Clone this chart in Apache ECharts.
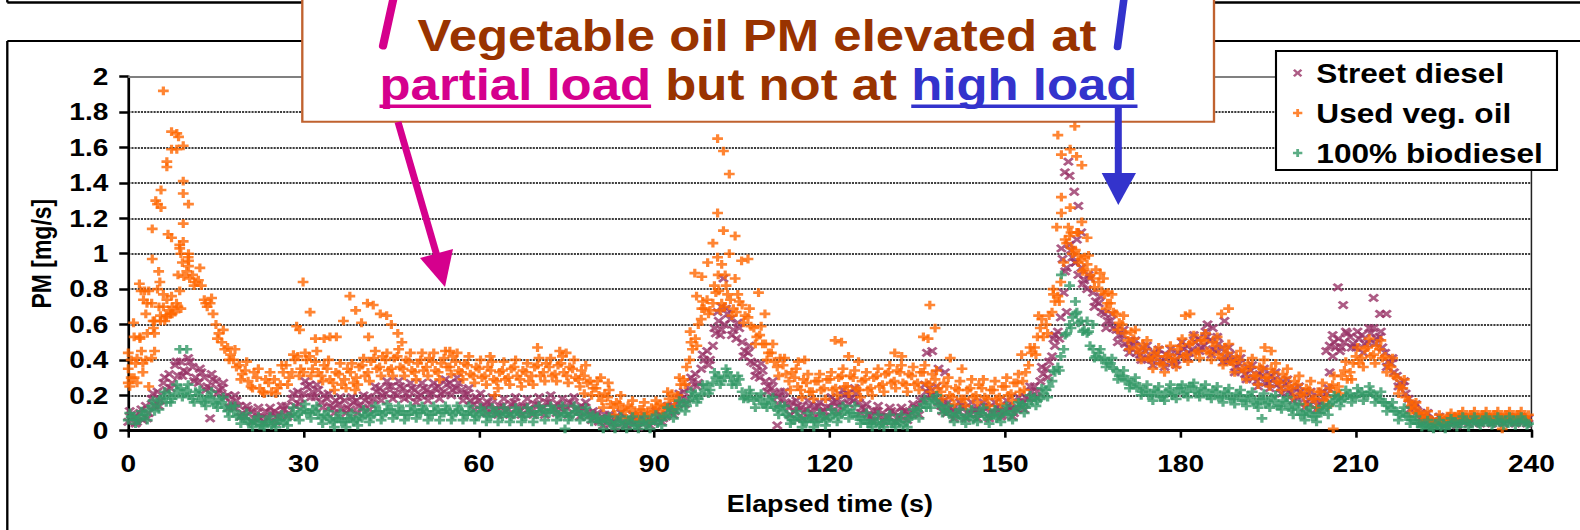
<!DOCTYPE html>
<html><head><meta charset="utf-8">
<script src="https://cdn.jsdelivr.net/npm/echarts@6/dist/echarts.min.js"></script>
<style>
html,body{margin:0;padding:0;background:#fff;overflow:hidden;}
#chart{width:1350px;height:530px;transform:scaleX(1.17037);transform-origin:0 0;}
</style></head><body><div id="chart"></div>
<script>
// ---- data ----
// main samples every 0.5 s (t = i*0.5); edge samples every 1 s (t = i + 0.25)
const STEP = 0.5;
const EDGE_STEP = 1, EDGE_OFFSET = 0.25;
const xTickInterval = 30;
const seriesNames = ['Street diesel', 'Used veg. oil', '100% biodiesel'];

const dieselVals = [
0.05,0.09,0.08,0.05,0.10,0.06,0.14,0.10,0.18,0.14,0.22,0.17,0.27,0.23,0.32,0.27,0.37,0.31,0.39,0.34,
0.33,0.39,0.36,0.30,0.27,0.33,0.30,0.25,0.24,0.29,0.28,0.23,0.24,0.19,0.20,0.16,0.13,0.17,0.14,0.10,
0.08,0.12,0.11,0.07,0.10,0.07,0.08,0.11,0.07,0.10,0.11,0.08,0.09,0.12,0.14,0.10,0.18,0.14,0.22,0.18,
0.21,0.25,0.26,0.22,0.19,0.23,0.16,0.20,0.18,0.14,0.13,0.17,0.15,0.12,0.17,0.13,0.12,0.16,0.17,0.14,
0.13,0.17,0.19,0.15,0.18,0.22,0.24,0.20,0.21,0.25,0.25,0.21,0.20,0.25,0.24,0.21,0.19,0.24,0.23,0.19,
0.20,0.24,0.23,0.20,0.21,0.24,0.25,0.21,0.22,0.26,0.27,0.23,0.24,0.27,0.23,0.20,0.21,0.17,0.15,0.19,
0.17,0.14,0.13,0.16,0.15,0.12,0.11,0.14,0.14,0.11,0.12,0.15,0.16,0.13,0.11,0.14,0.14,0.12,0.11,0.15,
0.15,0.12,0.13,0.16,0.16,0.13,0.12,0.15,0.14,0.11,0.13,0.16,0.15,0.12,0.11,0.14,0.13,0.10,0.09,0.11,
0.08,0.05,0.06,0.09,0.07,0.04,0.05,0.08,0.07,0.04,0.03,0.06,0.06,0.04,0.05,0.08,0.04,0.06,0.07,0.05,
0.05,0.08,0.09,0.07,0.08,0.12,0.14,0.11,0.15,0.18,0.22,0.18,0.24,0.28,0.32,0.27,0.35,0.40,0.45,0.40,
0.48,0.55,0.62,0.57,0.60,0.66,0.63,0.57,0.52,0.58,0.50,0.45,0.44,0.39,0.38,0.34,0.30,0.34,0.28,0.25,
0.24,0.21,0.19,0.22,0.18,0.15,0.13,0.16,0.11,0.14,0.13,0.10,0.12,0.14,0.10,0.13,0.14,0.11,0.11,0.13,
0.13,0.16,0.17,0.14,0.16,0.20,0.21,0.18,0.17,0.21,0.16,0.13,0.12,0.09,0.08,0.11,0.11,0.08,0.10,0.07,
0.08,0.11,0.10,0.07,0.08,0.11,0.11,0.09,0.10,0.13,0.13,0.17,0.18,0.22,0.24,0.20,0.19,0.16,0.14,0.17,
0.10,0.13,0.12,0.09,0.11,0.14,0.13,0.10,0.09,0.12,0.12,0.10,0.11,0.14,0.13,0.10,0.10,0.13,0.12,0.09,
0.11,0.14,0.13,0.10,0.12,0.15,0.16,0.19,0.18,0.22,0.25,0.22,0.28,0.32,0.35,0.39,0.42,0.48,0.56,0.64,
0.78,0.92,1.05,0.98,0.95,0.88,0.92,0.85,0.80,0.86,0.78,0.73,0.72,0.67,0.66,0.62,0.62,0.58,0.57,0.54,
0.54,0.49,0.47,0.51,0.48,0.44,0.43,0.47,0.45,0.41,0.40,0.44,0.43,0.39,0.39,0.43,0.42,0.38,0.40,0.44,
0.42,0.46,0.48,0.44,0.46,0.50,0.52,0.47,0.48,0.53,0.51,0.46,0.45,0.49,0.46,0.42,0.39,0.43,0.40,0.36,
0.38,0.34,0.32,0.36,0.34,0.30,0.28,0.32,0.31,0.27,0.27,0.31,0.29,0.26,0.24,0.28,0.26,0.22,0.21,0.24,
0.18,0.22,0.20,0.16,0.15,0.19,0.17,0.14,0.16,0.19,0.21,0.33,0.42,0.47,0.52,0.47,0.50,0.55,0.53,0.49,
0.47,0.52,0.54,0.49,0.50,0.55,0.58,0.52,0.53,0.47,0.44,0.39,0.38,0.33,0.31,0.27,0.25,0.21,0.18,0.15,
0.13,0.11,0.10,0.08,0.07,0.06,0.05,0.06,0.04,0.06,0.05,0.04,0.06,0.05,0.05,0.07,0.06,0.05,0.07,0.06,
0.06,0.07,0.05,0.06,0.07,0.06,0.06,0.07,0.05,0.06,0.07,0.06,0.06,0.07,0.06,0.05,0.07,0.06,0.06,0.07
];
const dieselEdge = [
0.11,0.04,0.12,0.07,0.21,0.14,0.30,0.24,0.39,0.31, 0.41,0.28,0.35,0.23,0.32,0.21,0.27,0.13,0.20,0.08,
0.14,0.05,0.13,0.05,0.13,0.05,0.14,0.08,0.21,0.15, 0.28,0.19,0.26,0.13,0.21,0.10,0.19,0.10,0.19,0.10,
0.20,0.12,0.25,0.17,0.28,0.18,0.28,0.18,0.27,0.16, 0.27,0.17,0.27,0.18,0.29,0.20,0.30,0.17,0.24,0.12,
0.21,0.10,0.19,0.09,0.18,0.09,0.19,0.09,0.18,0.09, 0.19,0.09,0.20,0.10,0.18,0.09,0.19,0.08,0.16,0.06,
0.10,0.03,0.09,0.02,0.10,0.03,0.09,0.02,0.09,0.03, 0.11,0.05,0.14,0.09,0.21,0.15,0.30,0.25,0.43,0.37,
0.58,0.54,0.69,0.54,0.61,0.42,0.48,0.31,0.38,0.22, 0.28,0.15,0.22,0.09,0.17,0.07,0.17,0.07,0.16,0.08,
0.19,0.11,0.23,0.15,0.24,0.10,0.15,0.06,0.14,0.05, 0.13,0.05,0.13,0.06,0.15,0.09,0.26,0.20,0.25,0.11,
0.16,0.07,0.16,0.07,0.16,0.07,0.16,0.07,0.16,0.08, 0.17,0.08,0.19,0.12,0.25,0.19,0.36,0.30,0.52,0.52,
0.90,1.02,1.08,0.83,0.88,0.70,0.76,0.58,0.66,0.50, 0.57,0.44,0.51,0.40,0.48,0.37,0.46,0.36,0.46,0.37,
0.50,0.41,0.54,0.45,0.56,0.43,0.53,0.39,0.47,0.33, 0.41,0.29,0.37,0.25,0.35,0.24,0.33,0.21,0.29,0.17,
0.25,0.13,0.22,0.12,0.22,0.24,0.50,0.45,0.56,0.47, 0.56,0.44,0.58,0.49,0.56,0.36,0.41,0.25,0.28,0.12,
0.15,0.06,0.10,0.03,0.08,0.03,0.08,0.03,0.08,0.04, 0.08,0.04,0.08,0.04,0.08,0.04,0.08,0.04,0.08,0.04
];
const dieselExtra = [[14.0,0.07],[100.8,0.67],[101.5,0.70],[101.8,0.86],[111.0,0.03],[136.6,0.44],[137.5,0.45],
[138.6,0.35],[139.7,0.33],[158.5,0.54],[159.6,1.03],[159.8,0.97],[160.2,1.46],[160.5,0.67],[160.8,1.52],[161.0,1.44],
[161.8,1.35],[162.5,1.27],[163.0,1.12],[162.0,0.95],[184.6,0.60],[185.5,0.58],[187.5,0.62],[204.9,0.45],[205.5,0.48],
[206.0,0.54],[206.9,0.81],[207.8,0.71],[213.0,0.75],[214.1,0.66],[215.2,0.66]];

const vegOilVals = [
0.27,0.40,0.30,0.41,0.52,0.38,0.66,0.79,0.72,0.62,0.80,0.65,0.70,0.64,0.68,0.70,0.67,0.88,1.00,0.87,
0.90,0.86,0.88,0.84,0.85,0.82,0.74,0.70,0.72,0.66,0.60,0.55,0.50,0.46,0.47,0.43,0.40,0.36,0.37,0.32,
0.34,0.28,0.25,0.33,0.30,0.24,0.22,0.29,0.27,0.22,0.29,0.24,0.26,0.33,0.37,0.30,0.33,0.40,0.42,0.35,
0.33,0.40,0.42,0.35,0.39,0.33,0.31,0.37,0.35,0.29,0.27,0.33,0.32,0.26,0.29,0.35,0.33,0.27,0.30,0.36,
0.37,0.31,0.33,0.39,0.41,0.35,0.36,0.42,0.40,0.34,0.35,0.41,0.42,0.36,0.35,0.40,0.39,0.34,0.33,0.38,
0.40,0.34,0.36,0.41,0.39,0.34,0.33,0.38,0.41,0.36,0.36,0.42,0.39,0.34,0.33,0.38,0.37,0.32,0.31,0.36,
0.35,0.30,0.31,0.36,0.34,0.29,0.28,0.33,0.34,0.29,0.30,0.35,0.36,0.31,0.29,0.34,0.33,0.28,0.31,0.36,
0.37,0.31,0.33,0.38,0.36,0.31,0.32,0.37,0.38,0.33,0.31,0.36,0.35,0.30,0.29,0.34,0.31,0.27,0.28,0.24,
0.24,0.20,0.17,0.21,0.19,0.15,0.13,0.16,0.15,0.12,0.11,0.14,0.13,0.10,0.09,0.12,0.12,0.09,0.10,0.13,
0.11,0.14,0.15,0.12,0.14,0.18,0.21,0.17,0.20,0.26,0.29,0.36,0.40,0.46,0.52,0.60,0.63,0.69,0.74,0.68,
0.72,0.78,0.79,0.72,0.70,0.77,0.74,0.69,0.67,0.73,0.71,0.65,0.64,0.59,0.58,0.53,0.54,0.49,0.49,0.44,
0.44,0.39,0.36,0.41,0.37,0.32,0.28,0.33,0.30,0.25,0.23,0.29,0.27,0.22,0.22,0.28,0.28,0.23,0.24,0.29,
0.29,0.23,0.24,0.30,0.31,0.25,0.25,0.31,0.30,0.24,0.23,0.28,0.29,0.23,0.24,0.30,0.31,0.25,0.26,0.32,
0.33,0.27,0.28,0.34,0.33,0.27,0.26,0.32,0.31,0.26,0.27,0.33,0.33,0.27,0.26,0.32,0.29,0.24,0.22,0.27,
0.25,0.20,0.19,0.24,0.23,0.18,0.18,0.23,0.24,0.19,0.20,0.26,0.24,0.19,0.18,0.23,0.23,0.18,0.19,0.25,
0.25,0.20,0.21,0.27,0.27,0.22,0.28,0.33,0.37,0.44,0.47,0.53,0.58,0.53,0.60,0.65,0.67,0.73,0.76,0.84,
0.95,1.06,1.10,1.00,1.02,0.95,0.97,0.91,0.94,0.88,0.86,0.91,0.84,0.79,0.77,0.72,0.72,0.67,0.66,0.61,
0.60,0.55,0.51,0.56,0.52,0.47,0.44,0.49,0.46,0.41,0.40,0.44,0.42,0.38,0.37,0.42,0.43,0.39,0.41,0.46,
0.48,0.42,0.43,0.49,0.50,0.44,0.45,0.51,0.51,0.45,0.44,0.50,0.48,0.43,0.41,0.47,0.44,0.39,0.38,0.42,
0.40,0.35,0.34,0.38,0.36,0.31,0.31,0.36,0.35,0.30,0.30,0.35,0.33,0.28,0.27,0.32,0.30,0.25,0.24,0.28,
0.26,0.21,0.20,0.24,0.23,0.18,0.18,0.22,0.22,0.17,0.19,0.24,0.26,0.22,0.25,0.31,0.34,0.29,0.33,0.38,
0.42,0.38,0.41,0.46,0.47,0.42,0.43,0.48,0.46,0.41,0.42,0.37,0.36,0.31,0.30,0.25,0.24,0.19,0.17,0.14,
0.13,0.10,0.10,0.08,0.08,0.06,0.06,0.05,0.05,0.07,0.06,0.07,0.08,0.07,0.08,0.09,0.09,0.08,0.08,0.09,
0.09,0.08,0.08,0.09,0.09,0.08,0.08,0.09,0.09,0.08,0.08,0.09,0.09,0.08,0.08,0.09,0.09,0.08,0.08,0.09
];
const vegOilEdge = [
0.25,0.38,0.45,0.55,0.62,0.70,0.62,0.66,0.72,0.95, 0.98,0.82,0.92,0.72,0.75,0.52,0.57,0.40,0.46,0.29,
0.39,0.24,0.35,0.21,0.33,0.21,0.37,0.26,0.43,0.31, 0.44,0.31,0.45,0.28,0.40,0.23,0.38,0.24,0.38,0.26,
0.41,0.28,0.45,0.31,0.44,0.31,0.46,0.31,0.44,0.29, 0.44,0.31,0.44,0.29,0.45,0.32,0.44,0.29,0.42,0.27,
0.40,0.26,0.39,0.24,0.39,0.26,0.40,0.25,0.38,0.26, 0.41,0.28,0.41,0.28,0.42,0.27,0.40,0.25,0.37,0.20,
0.28,0.13,0.23,0.09,0.20,0.07,0.17,0.06,0.16,0.06, 0.17,0.09,0.22,0.13,0.30,0.26,0.50,0.48,0.73,0.66,
0.82,0.68,0.82,0.65,0.77,0.61,0.69,0.49,0.59,0.40, 0.49,0.31,0.41,0.23,0.35,0.19,0.32,0.18,0.32,0.18,
0.33,0.20,0.35,0.21,0.34,0.19,0.33,0.20,0.35,0.22, 0.37,0.24,0.37,0.22,0.36,0.23,0.37,0.22,0.34,0.18,
0.30,0.15,0.28,0.14,0.29,0.16,0.29,0.14,0.28,0.15, 0.30,0.17,0.32,0.23,0.47,0.43,0.63,0.55,0.77,0.73,
1.08,1.12,1.12,0.90,0.99,0.81,0.89,0.69,0.77,0.57, 0.65,0.46,0.57,0.40,0.51,0.35,0.47,0.33,0.48,0.36,
0.52,0.39,0.54,0.41,0.55,0.40,0.53,0.37,0.49,0.33, 0.45,0.29,0.41,0.26,0.40,0.25,0.38,0.23,0.35,0.19,
0.31,0.15,0.28,0.13,0.27,0.14,0.31,0.21,0.39,0.29, 0.47,0.36,0.52,0.38,0.51,0.33,0.41,0.21,0.29,0.10,
0.16,0.06,0.11,0.04,0.09,0.04,0.10,0.06,0.11,0.06, 0.11,0.06,0.11,0.06,0.11,0.06,0.11,0.06,0.11,0.06
];
const vegOilExtra = [[0,0.44],[0,0.35],[0.5,0.30],[0.9,0.61],[1.0,0.53],[1.5,0.27],[1.9,0.83],[2.0,0.53],[2.2,0.79],
[2.5,0.33],[2.6,0.74],[2.8,0.79],[3.0,0.40],[3.2,0.72],[3.5,0.25],[4.0,0.41],[4.1,0.97],[4.1,1.14],[4.3,0.58],[4.5,0.45],
[4.5,0.55],[4.7,1.30],[5.0,1.28],[5.2,0.90],[5.4,0.84],[5.5,0.62],[5.6,1.26],[5.6,1.36],[6.0,1.92],[6.0,0.77],[6.5,0.65],
[6.6,1.52],[6.6,1.49],[6.6,0.74],[6.8,1.11],[7.4,1.69],[7.4,1.59],[7.4,1.09],[7.4,0.76],[7.5,0.66],[8.3,1.68],[8.3,1.59],
[8.5,0.70],[8.6,1.66],[8.8,1.05],[8.8,1.03],[8.8,0.79],[9.0,0.69],[9.4,1.61],[9.4,1.41],[9.4,1.34],[9.4,1.17],[9.4,1.07],
[10.3,1.28],[10.3,1.00],[10.3,0.96],[10.3,0.93],
[28.8,0.59],[29.3,0.57],[29.9,0.84],[31.1,0.67],[32.0,0.52],[33.5,0.52],[34.5,0.53],[35.6,0.53],[36.8,0.62],[37.9,0.76],
[38.8,0.23],[38.9,0.68],[39.9,0.61],[40.9,0.72],[41.1,0.53],[41.9,0.71],[43.1,0.66],[44.2,0.65],[45.0,0.60],[46.1,0.55],
[46.8,0.50],[55.0,0.45],[61.9,0.42],[62.7,0.20],[70.0,0.47],[73.8,0.45],[74.9,0.44],[78.0,0.21],
[80.8,0.30],[82.1,0.27],[96.1,0.56],[96.9,0.89],[97.2,0.76],[98.1,0.87],[98.1,0.69],[99.1,0.95],[100.0,1.06],[100.8,0.98],
[100.8,1.65],[100.8,1.23],[100.9,0.88],[101.5,0.94],[101.8,1.58],[101.8,1.13],[102.1,0.88],[102.8,1.45],[102.8,1.00],
[103.8,1.10],[103.8,0.86],[104.9,0.96],[106.0,0.97],[107.8,0.78],[108.9,0.66],[114.6,0.39],[115.7,0.40],[120.9,0.51],
[122.0,0.50],[123.2,0.42],[124.9,0.39],[131.1,0.44],[132.3,0.42],[136.0,0.53],[136.8,0.52],[137.1,0.71],[138.0,0.58],
[140.6,0.41],[142.6,0.35],[152.8,0.43],[155.7,0.65],[158.2,0.80],[158.8,1.15],[159.0,1.67],[159.6,1.23],[159.6,1.32],
[159.6,1.56],[160.8,1.15],[161.1,1.59],[161.1,1.26],[161.4,1.03],[161.9,1.72],[162.2,1.55],[162.5,1.12],[162.5,0.99],
[163.1,1.50],[163.1,1.18],[163.6,0.98],[164.0,1.09],[166.8,0.86],[167.6,0.78],[180.8,0.65],[181.6,0.66],[187.0,0.66],
[188.2,0.69],[194.4,0.47],[195.5,0.45],[206.1,0.01],[235.0,0.01]];

const biodieselVals = [
0.06,0.08,0.08,0.06,0.07,0.09,0.09,0.12,0.14,0.11,0.15,0.18,0.19,0.16,0.21,0.18,0.20,0.23,0.24,0.21,
0.23,0.20,0.18,0.22,0.20,0.17,0.16,0.19,0.19,0.16,0.15,0.18,0.16,0.13,0.11,0.14,0.11,0.08,0.09,0.07,
0.07,0.05,0.04,0.06,0.05,0.03,0.03,0.05,0.05,0.03,0.04,0.06,0.06,0.04,0.06,0.08,0.10,0.08,0.09,0.11,
0.12,0.10,0.10,0.12,0.11,0.09,0.07,0.09,0.08,0.06,0.05,0.07,0.07,0.05,0.05,0.07,0.07,0.05,0.06,0.08,
0.07,0.09,0.10,0.08,0.09,0.11,0.11,0.09,0.10,0.12,0.12,0.10,0.09,0.11,0.11,0.09,0.09,0.11,0.12,0.10,
0.10,0.12,0.11,0.09,0.09,0.11,0.12,0.10,0.10,0.12,0.11,0.09,0.10,0.12,0.11,0.09,0.09,0.11,0.10,0.08,
0.09,0.11,0.10,0.08,0.08,0.10,0.11,0.09,0.08,0.10,0.10,0.08,0.09,0.11,0.10,0.08,0.08,0.10,0.11,0.09,
0.09,0.11,0.12,0.10,0.10,0.12,0.11,0.09,0.08,0.10,0.10,0.08,0.09,0.11,0.11,0.09,0.08,0.10,0.07,0.09,
0.07,0.05,0.05,0.07,0.06,0.04,0.03,0.05,0.05,0.03,0.04,0.06,0.05,0.03,0.03,0.05,0.05,0.03,0.04,0.06,
0.06,0.04,0.06,0.08,0.08,0.10,0.12,0.10,0.12,0.14,0.16,0.14,0.17,0.19,0.21,0.18,0.20,0.23,0.26,0.23,
0.27,0.30,0.31,0.28,0.30,0.33,0.31,0.28,0.26,0.29,0.22,0.19,0.18,0.21,0.17,0.19,0.18,0.15,0.15,0.18,
0.16,0.13,0.12,0.14,0.11,0.09,0.08,0.06,0.06,0.08,0.07,0.05,0.05,0.07,0.07,0.05,0.05,0.07,0.08,0.06,
0.07,0.09,0.10,0.08,0.09,0.11,0.12,0.10,0.10,0.08,0.08,0.06,0.06,0.04,0.04,0.06,0.05,0.03,0.04,0.06,
0.06,0.04,0.04,0.06,0.05,0.03,0.05,0.07,0.08,0.10,0.11,0.13,0.15,0.13,0.16,0.18,0.17,0.15,0.14,0.12,
0.11,0.09,0.08,0.10,0.09,0.07,0.07,0.09,0.08,0.06,0.08,0.10,0.10,0.08,0.07,0.09,0.09,0.07,0.08,0.10,
0.11,0.09,0.09,0.11,0.12,0.14,0.15,0.13,0.15,0.17,0.19,0.17,0.18,0.21,0.23,0.25,0.28,0.33,0.36,0.42,
0.46,0.55,0.60,0.64,0.66,0.61,0.62,0.57,0.55,0.48,0.46,0.42,0.44,0.40,0.41,0.38,0.38,0.35,0.34,0.31,
0.31,0.28,0.29,0.26,0.27,0.24,0.25,0.22,0.23,0.20,0.20,0.23,0.22,0.19,0.19,0.22,0.23,0.20,0.21,0.24,
0.24,0.21,0.22,0.25,0.25,0.22,0.21,0.24,0.23,0.20,0.20,0.23,0.22,0.19,0.19,0.22,0.21,0.18,0.18,0.21,
0.20,0.17,0.17,0.20,0.19,0.16,0.15,0.18,0.18,0.15,0.16,0.19,0.17,0.14,0.14,0.17,0.16,0.13,0.12,0.15,
0.12,0.09,0.09,0.11,0.10,0.08,0.08,0.10,0.10,0.12,0.13,0.15,0.16,0.18,0.19,0.17,0.18,0.20,0.21,0.19,
0.19,0.21,0.22,0.20,0.20,0.22,0.21,0.19,0.18,0.16,0.16,0.14,0.13,0.11,0.11,0.09,0.10,0.08,0.08,0.06,
0.06,0.04,0.04,0.03,0.03,0.02,0.02,0.04,0.03,0.02,0.04,0.03,0.03,0.05,0.05,0.04,0.04,0.06,0.05,0.04,
0.05,0.06,0.04,0.05,0.06,0.05,0.05,0.04,0.06,0.05,0.05,0.06,0.04,0.05,0.06,0.05,0.05,0.06,0.05,0.04
];
const biodieselEdge = [
0.10,0.04,0.11,0.06,0.17,0.12,0.22,0.16,0.26,0.19, 0.26,0.16,0.23,0.14,0.22,0.13,0.19,0.08,0.14,0.04,
0.10,0.02,0.08,0.02,0.08,0.02,0.09,0.03,0.13,0.06, 0.15,0.07,0.14,0.04,0.11,0.02,0.10,0.02,0.10,0.03,
0.12,0.05,0.14,0.06,0.15,0.07,0.14,0.06,0.14,0.07, 0.14,0.06,0.14,0.06,0.14,0.06,0.14,0.06,0.14,0.06,
0.13,0.05,0.13,0.05,0.13,0.05,0.13,0.05,0.13,0.05, 0.14,0.06,0.14,0.06,0.14,0.06,0.14,0.06,0.13,0.05,
0.08,0.01,0.08,0.01,0.08,0.01,0.08,0.01,0.08,0.01, 0.09,0.03,0.13,0.07,0.17,0.11,0.22,0.16,0.26,0.21,
0.33,0.26,0.35,0.26,0.31,0.18,0.23,0.13,0.21,0.13, 0.19,0.09,0.14,0.04,0.11,0.02,0.10,0.02,0.10,0.03,
0.12,0.05,0.14,0.07,0.14,0.04,0.10,0.02,0.09,0.02, 0.09,0.02,0.09,0.02,0.12,0.07,0.18,0.13,0.20,0.10,
0.14,0.05,0.12,0.04,0.12,0.05,0.13,0.04,0.12,0.05, 0.14,0.06,0.16,0.10,0.20,0.14,0.24,0.19,0.34,0.34,
0.54,0.58,0.67,0.56,0.56,0.41,0.46,0.36,0.41,0.29, 0.34,0.24,0.30,0.20,0.26,0.17,0.25,0.17,0.26,0.18,
0.26,0.19,0.27,0.19,0.26,0.18,0.25,0.16,0.24,0.15, 0.23,0.14,0.22,0.13,0.21,0.13,0.20,0.12,0.19,0.09,
0.15,0.06,0.13,0.05,0.14,0.09,0.20,0.14,0.23,0.16, 0.24,0.17,0.25,0.16,0.22,0.11,0.16,0.06,0.13,0.04,
0.08,0.02,0.06,0.01,0.06,0.01,0.07,0.02,0.08,0.02, 0.08,0.03,0.08,0.03,0.08,0.03,0.08,0.03,0.08,0.03
];
const biodieselExtra = [[8.8,0.46],[10.0,0.46],[74.7,0.01],[159.6,0.88],[161.0,0.82],[162.0,0.73],[164.0,0.62],
[165.0,0.60],[193.9,0.07]];

// ---- layout helpers (the original picture is stretched horizontally) ----
const S = 1580 / 1350;
const X = px => px / S;
const FONT = "'Liberation Sans', Arial, sans-serif";
const MAGENTA = '#D5008D', BLUE = '#3333CC', BROWN = '#993300';

const PLUS = 'path://M3.5,0H6.5V3.5H10V6.5H6.5V10H3.5V6.5H0V3.5H3.5Z';
const CROSS = 'path://M0,2L2,0L5,3L8,0L10,2L7,5L10,8L8,10L5,7L2,10L0,8L3,5Z';

const toPts = (vals, edge, extra) =>
  vals.map((v, i) => [i * STEP, v])
    .concat(edge.map((v, i) => [i * EDGE_STEP + EDGE_OFFSET, v]))
    .concat(extra);

// text measuring for the annotation's second line
const mctx = document.createElement('canvas').getContext('2d');
const annFont = "bold 43.5px 'Liberation Sans', Arial, sans-serif";
mctx.font = annFont;
const p1 = 'partial load', p2 = 'but not at', p3 = 'high load';
const wSp = mctx.measureText(' ').width;
const w1 = mctx.measureText(p1).width, w2 = mctx.measureText(p2).width, w3 = mctx.measureText(p3).width;
const totalW = w1 + wSp + w2 + wSp + w3;
const l2x0 = X(758.5) - totalW / 2;
const x1 = l2x0, x2 = x1 + w1 + wSp, x3 = x2 + w2 + wSp;
const l1y = 51 - 15.1, l2y = 100 - 15.1;

function txt(text, x, y, fill, align) {
  return { type: 'text', x: x, y: y, z: 110,
    style: { text: text, fill: fill, font: annFont, textAlign: align, align: align,
             textVerticalAlign: 'middle', verticalAlign: 'middle' } };
}
function ln(xa, ya, xb, yb, color, w, cap, z) {
  return { type: 'line', z: z, shape: { x1: xa, y1: ya, x2: xb, y2: yb },
           style: { stroke: color, lineWidth: w, lineCap: cap || 'butt' } };
}

const chart = echarts.init(document.getElementById('chart'), null, { renderer: 'svg' });
chart.setOption({
  animation: false,
  backgroundColor: '#fff',
  grid: { left: 109.6, right: 41.5, top: 76.7, bottom: 99.3, containLabel: false },
  xAxis: [{
    type: 'value', min: 0, max: 240, interval: xTickInterval, position: 'bottom',
    name: 'Elapsed time (s)', nameLocation: 'middle', nameGap: 62,
    nameTextStyle: { fontSize: 23, fontWeight: 'bold', color: '#000', fontFamily: FONT },
    axisLine: { show: true, onZero: false, lineStyle: { color: '#000', width: 3 } },
    axisTick: { show: true, length: 7, lineStyle: { color: '#000', width: 2.2 } },
    axisLabel: { fontSize: 24, fontWeight: 'bold', color: '#000', margin: 21, fontFamily: FONT },
    splitLine: { show: false }
  }, {
    type: 'value', min: 0, max: 240, position: 'top',
    axisLine: { show: true, onZero: false, lineStyle: { color: '#808080', width: 2 } },
    axisTick: { show: false }, axisLabel: { show: false }, splitLine: { show: false }
  }],
  yAxis: [{
    type: 'value', min: 0, max: 2, interval: 0.2,
    name: 'PM [mg/s]', nameLocation: 'middle', nameGap: 63, nameRotate: 90,
    nameTextStyle: { fontSize: 23, fontWeight: 'bold', color: '#000', fontFamily: FONT },
    axisLine: { show: true, onZero: false, lineStyle: { color: '#000', width: 2.3 } },
    axisTick: { show: true, length: 7.7, lineStyle: { color: '#000', width: 2.5 } },
    axisLabel: { fontSize: 24, fontWeight: 'bold', color: '#000', margin: 17, fontFamily: FONT },
    splitLine: { show: true, showMinLine: false, showMaxLine: false,
      lineStyle: { color: '#000', width: 1.6, type: [1.8, 0.9] } }
  }, {
    type: 'value', min: 0, max: 2, position: 'right',
    axisLine: { show: true, onZero: false, lineStyle: { color: '#222', width: 1.3 } },
    axisTick: { show: false }, axisLabel: { show: false }, splitLine: { show: false }
  }],
  legend: {
    show: true, orient: 'vertical', left: X(1276), top: 51,
    padding: [7, 12, 2, 14.5], itemGap: 10, itemWidth: 8, itemHeight: 9,
    backgroundColor: '#fff', borderColor: '#000', borderWidth: 1.8, borderRadius: 0,
    selectedMode: false,
    textStyle: { fontSize: 27, fontWeight: 'bold', color: '#000', fontFamily: FONT,
                 lineHeight: 30, padding: [0, 0, 0, 7] },
    data: seriesNames
  },
  series: [{
    type: 'scatter', name: seriesNames[0], data: toPts(dieselVals, dieselEdge, dieselExtra),
    symbol: CROSS, symbolSize: [9.4, 8.8], itemStyle: { color: '#993366' }, silent: true
  }, {
    type: 'scatter', name: seriesNames[1], data: toPts(vegOilVals, vegOilEdge, vegOilExtra),
    symbol: PLUS, symbolSize: [9.2, 8.8], itemStyle: { color: '#FF6600' }, silent: true
  }, {
    type: 'scatter', name: seriesNames[2], data: toPts(biodieselVals, biodieselEdge, biodieselExtra),
    symbol: PLUS, symbolSize: [9.2, 8.8], itemStyle: { color: '#339966' }, silent: true
  }],
  graphic: { elements: [
    ln(X(7.3), 2.5, 1352, 2.5, '#000', 2.5, 'butt', 1),
    ln(X(7.3), -3, X(7.3), 2.5, '#000', 2, 'butt', 1),
    ln(X(7.3), 41, 1352, 41, '#000', 2.2, 'butt', 1),
    ln(X(7.3), 41, X(7.3), 533, '#000', 2, 'butt', 1),
    { type: 'rect', z: 100, shape: { x: X(302.3), y: -5, width: X(1214) - X(302.3), height: 126.7 },
      style: { fill: '#fff', stroke: '#C0622F', lineWidth: 2 } },
    ln(X(394), -4, X(383), 46, MAGENTA, 7, 'round', 105),
    ln(X(1124.3), -4, X(1117.5), 47, BLUE, 6.5, 'round', 105),
    txt('Vegetable oil PM elevated at', X(757), l1y, BROWN, 'center'),
    txt(p1, x1, l2y, MAGENTA, 'left'),
    txt(p2, x2, l2y, BROWN, 'left'),
    txt(p3, x3, l2y, BLUE, 'left'),
    { type: 'rect', z: 110, shape: { x: x1, y: 104.5, width: w1, height: 3.6 }, style: { fill: MAGENTA } },
    { type: 'rect', z: 110, shape: { x: x3, y: 104.5, width: w3, height: 3.6 }, style: { fill: BLUE } },
    ln(X(398), 122, X(437), 256, MAGENTA, 6, 'butt', 105),
    { type: 'polygon', z: 105, shape: { points: [[X(420), 258], [X(453), 249], [X(445), 287]] },
      style: { fill: MAGENTA } },
    ln(X(1118.3), 107, X(1118.3), 176, BLUE, 6, 'butt', 105),
    { type: 'polygon', z: 105, shape: { points: [[X(1101.7), 173], [X(1136), 173], [X(1118.3), 205]] },
      style: { fill: BLUE } }
  ] }
});
</script></body></html>
